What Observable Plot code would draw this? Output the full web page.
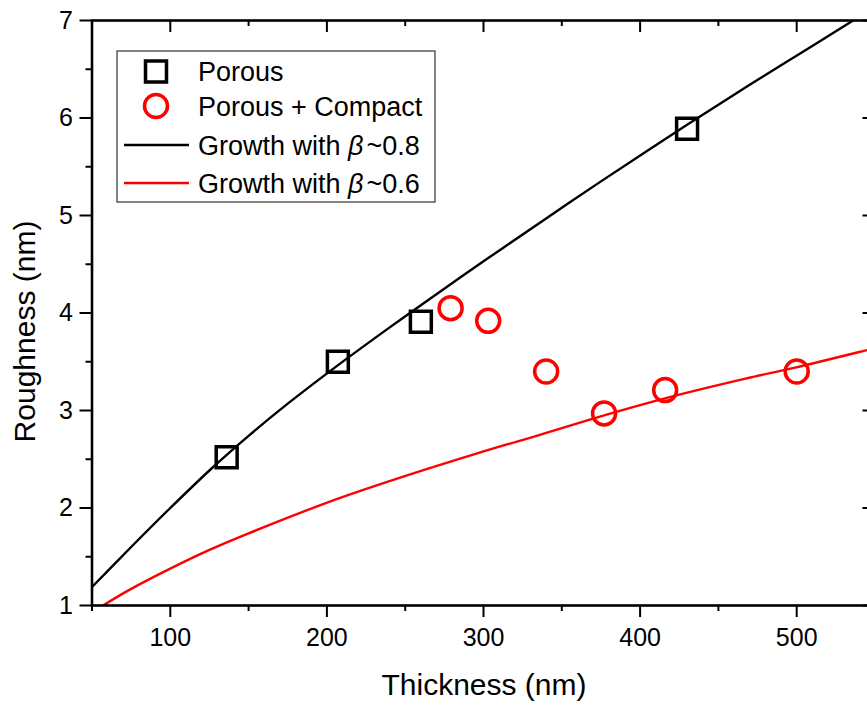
<!DOCTYPE html>
<html><head><meta charset="utf-8">
<script src="https://cdn.jsdelivr.net/npm/d3@7"></script>
<script src="https://cdn.jsdelivr.net/npm/@observablehq/plot@0.6"></script>
<style>html,body{margin:0;padding:0;background:#fff;overflow:hidden}</style>
</head><body><div id="chart"></div>
<script>
// ---- data ----
const porousThickness = [136, 207, 260, 430];
const porousRoughness = [2.52, 3.50, 3.91, 5.89];
const compactThickness = [279, 303, 340, 377, 416, 500];
const compactRoughness = [4.05, 3.92, 3.40, 2.97, 3.21, 3.40];
const fit08Thickness = [50, 75, 100, 126, 150, 175, 205, 239, 260, 300, 340, 375, 430, 470, 503, 535, 545];
const fit08Roughness = [1.19, 1.60, 2.00, 2.40, 2.74, 3.07, 3.44, 3.84, 4.08, 4.53, 4.97, 5.35, 5.93, 6.34, 6.67, 6.99, 7.09];
const fit06Thickness = [57, 75, 99, 125, 150, 201, 239, 298, 338, 377, 417, 468, 499, 545, 550];
const fit06Roughness = [1.00, 1.17, 1.37, 1.57, 1.74, 2.06, 2.27, 2.57, 2.76, 2.95, 3.13, 3.33, 3.44, 3.62, 3.64];
const xMajorTicks = [100, 200, 300, 400, 500];
const xMinorTicks = [50, 150, 250, 350, 450, 550];
const yMajorTicks = [1, 2, 3, 4, 5, 6, 7];
const yMinorTicks = [1.5, 2.5, 3.5, 4.5, 5.5, 6.5];
const xTitle = "Thickness (nm)";
const yTitle = "Roughness (nm)";
const legendNames = ["Porous", "Porous + Compact", "Growth with ", "Growth with "];
const legendBeta = [null, null, "~0.8", "~0.6"];

const porous = porousThickness.map((x, i) => ({x, y: porousRoughness[i]}));
const compact = compactThickness.map((x, i) => ({x, y: compactRoughness[i]}));
const fit08 = fit08Thickness.map((x, i) => ({x, y: fit08Roughness[i]}));
const fit06 = fit06Thickness.map((x, i) => ({x, y: fit06Roughness[i]}));

const FONT = '"Liberation Sans", Arial, Helvetica, sans-serif';
const W = 867, H = 711, mL = 91.5, mR = -7.5, mT = 20, mB = 106;
const innerW = W - mL - mR, innerH = H - mT - mB;
const RED = "#ff0000";

const plot = Plot.plot({
  width: W, height: H,
  marginLeft: mL, marginRight: mR, marginTop: mT, marginBottom: mB,
  style: {fontFamily: FONT, fontSize: "25px", color: "black", background: "white"},
  x: {domain: [50, 550]},
  y: {domain: [1, 7]},
  marks: [
    Plot.line(fit08, {x: "x", y: "y", stroke: "black", strokeWidth: 2.4, curve: "catmull-rom", clip: true}),
    Plot.line(fit06, {x: "x", y: "y", stroke: RED, strokeWidth: 2.4, curve: "catmull-rom", clip: true}),
    Plot.dot(porous, {x: "x", y: "y", symbol: "square", r: 11.8, stroke: "black", strokeWidth: 3.5, fill: "none"}),
    Plot.dot(compact, {x: "x", y: "y", symbol: "circle", r: 11.5, stroke: RED, strokeWidth: 3.5, fill: "none"}),
    Plot.axisX({anchor: "bottom", ticks: xMajorTicks, tickSize: 12, tickPadding: 11, fontSize: 25, tickFormat: d3.format("d"), label: null, strokeWidth: 2}),
    Plot.axisX({anchor: "bottom", ticks: xMinorTicks, tickSize: 6, tickFormat: () => "", label: null, strokeWidth: 2}),
    Plot.axisY({anchor: "left", ticks: yMajorTicks, tickSize: 12, tickPadding: 7, fontSize: 25, tickFormat: d3.format("d"), label: null, strokeWidth: 2}),
    Plot.axisY({anchor: "left", ticks: yMinorTicks, tickSize: 6, tickFormat: () => "", label: null, strokeWidth: 2}),
    Plot.tickX(xMajorTicks, {x: d => d, insetBottom: innerH - 12, strokeWidth: 2}),
    Plot.tickX(xMinorTicks, {x: d => d, insetBottom: innerH - 6, strokeWidth: 2}),
    Plot.tickY(yMajorTicks, {y: d => d, insetLeft: innerW - 12, strokeWidth: 2}),
    Plot.tickY(yMinorTicks, {y: d => d, insetLeft: innerW - 6, strokeWidth: 2}),
    Plot.frame({stroke: "black", strokeWidth: 2.6})
  ]
});
document.getElementById("chart").appendChild(plot);

const svg = d3.select(plot);
// axis titles
svg.append("text").attr("x", 484).attr("y", 695).attr("text-anchor", "middle")
  .attr("font-family", FONT).attr("font-size", 30).attr("fill", "black").text(xTitle);
svg.append("text").attr("transform", "translate(35,331.5) rotate(-90)").attr("text-anchor", "middle")
  .attr("font-family", FONT).attr("font-size", 30).attr("fill", "black").text(yTitle);

// legend
const lg = svg.append("g").attr("font-family", FONT).attr("font-size", 27).attr("fill", "black").attr("text-anchor", "start");
lg.append("rect").attr("x", 117).attr("y", 51).attr("width", 318).attr("height", 151)
  .attr("fill", "white").attr("stroke", "#333").attr("stroke-width", 1.2);
const rowY = [71.5, 106, 145, 183];
lg.append("rect").attr("x", 156 - 10.5).attr("y", rowY[0] - 10.5).attr("width", 21).attr("height", 21)
  .attr("fill", "none").attr("stroke", "black").attr("stroke-width", 3.5);
lg.append("circle").attr("cx", 156).attr("cy", rowY[1]).attr("r", 11.5)
  .attr("fill", "none").attr("stroke", RED).attr("stroke-width", 3.5);
lg.append("line").attr("x1", 124).attr("x2", 189).attr("y1", rowY[2]).attr("y2", rowY[2])
  .attr("stroke", "black").attr("stroke-width", 2.5);
lg.append("line").attr("x1", 124).attr("x2", 189).attr("y1", rowY[3]).attr("y2", rowY[3])
  .attr("stroke", RED).attr("stroke-width", 2.5);
legendNames.forEach((name, i) => {
  const t = lg.append("text").attr("x", 198).attr("y", rowY[i]).attr("dy", "0.36em").attr("text-anchor", "start");
  t.append("tspan").text(name);
  if (legendBeta[i]) {
    t.append("tspan").attr("font-style", "italic").text("\u03B2");
    t.append("tspan").attr("dx", 3).text(legendBeta[i]);
  }
});
</script>
</body></html>
